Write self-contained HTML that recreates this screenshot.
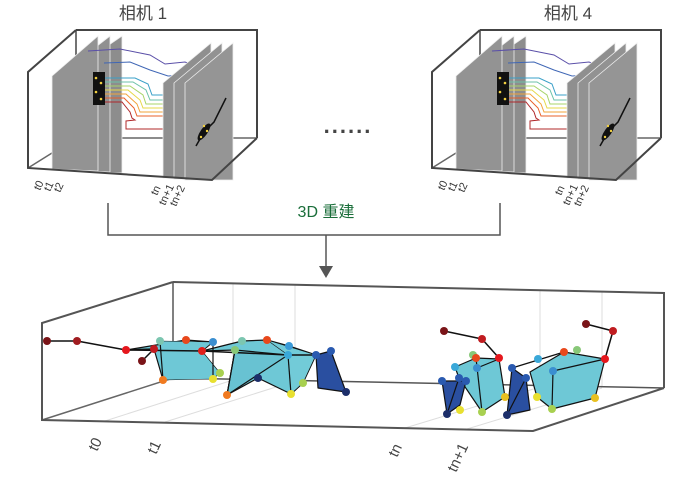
<!DOCTYPE html>
<html><head><meta charset="utf-8"><style>
html,body{margin:0;padding:0;background:#fff;}
svg{display:block;}
text{font-family:"Liberation Sans","Noto Sans CJK SC",sans-serif;}
</style></head><body>
<svg width="690" height="483" viewBox="0 0 690 483" xmlns="http://www.w3.org/2000/svg">
<defs>
<g id="cam">
  <polyline points="76,30 257,30 257,138" fill="none" stroke="#444" stroke-width="2"/>
  <line x1="76" y1="30" x2="76" y2="138" stroke="#444" stroke-width="1.5"/>
  <line x1="76" y1="138" x2="257" y2="138" stroke="#666" stroke-width="1.5"/>
  <line x1="28" y1="168" x2="76" y2="138" stroke="#666" stroke-width="1.5"/>
  <polygon points="72,70 122,36 122,173 72,171" fill="#8d8d8d" stroke="#eee" stroke-width="0.8"/>
  <polygon points="62,73 110,36 110,172 62,170" fill="#909090" stroke="#eee" stroke-width="0.8"/>
  <polygon points="52,76 98,36 98,171 52,169" fill="#939393" stroke="#eee" stroke-width="0.8"/>
  <g fill="none" stroke-width="1">
    <path d="M88,51 L120,49 L150,55 L165,64 L185,62 L198,67" stroke="#5a4fa8"/>
    <path d="M104,63 L130,62 L150,70 L168,76 L188,75" stroke="#3f66b5"/>
    <path d="M100,78 L135,78 L148,84 L152,95 L163,95" stroke="#3aa0c8"/>
    <path d="M100,82 L133,82 L146,90 L150,100 L163,100" stroke="#6cc2a8"/>
    <path d="M98,86 L130,86 L143,95 L146,104 L163,104" stroke="#a8d46a"/>
    <path d="M98,90 L128,90 L140,100 L143,108 L163,108" stroke="#e6d84a"/>
    <path d="M97,94 L126,94 L137,104 L140,112 L163,112" stroke="#f2a33a"/>
    <path d="M97,98 L124,98 L134,108 L137,116 L163,116" stroke="#e8602a"/>
    <path d="M96,102 L122,102 L130,112 L132,118 L135,120 L126,121 L126,129 L163,129" stroke="#b0282a"/>
  </g>
  <rect x="93" y="72" width="12" height="33" fill="#111"/>
  <g fill="#f2d040"><circle cx="96" cy="78" r="1.3"/><circle cx="101" cy="83" r="1.3"/><circle cx="96" cy="92" r="1.3"/><circle cx="101" cy="99" r="1.3"/></g>
  <polygon points="163,83 211,43 211,178 163,178" fill="#8f8f8f" stroke="#eee" stroke-width="0.8"/>
  <polygon points="174,83 222,43 222,179 174,179" fill="#929292" stroke="#eee" stroke-width="0.8"/>
  <polygon points="185,83 233,43 233,180 185,180" fill="#959595" stroke="#eee" stroke-width="0.8"/>
  <path d="M196,146 L204,132 L214,122 L226,98" stroke="#111" stroke-width="1.5" fill="none"/>
  <ellipse cx="204" cy="132" rx="3.5" ry="10" transform="rotate(35 204 132)" fill="#111"/>
  <g fill="#f2d040"><circle cx="204" cy="126" r="1.2"/><circle cx="207" cy="131" r="1.2"/><circle cx="201" cy="137" r="1.2"/></g>
  <polyline points="76,30 28,72 28,168 212,180 257,138" fill="none" stroke="#444" stroke-width="2"/>
  <g font-size="11" fill="#333">
    <text transform="translate(40,191) rotate(-65)">t0</text>
    <text transform="translate(50,192) rotate(-65)">t1</text>
    <text transform="translate(60,193) rotate(-65)">t2</text>
    <text transform="translate(157,196) rotate(-65)">tn</text>
    <text transform="translate(165,206) rotate(-65)">tn+1</text>
    <text transform="translate(176,207) rotate(-65)">tn+2</text>
  </g>
</g>
</defs>
<text x="143" y="19" font-size="17" fill="#444" text-anchor="middle">相机 1</text>
<text x="568" y="19" font-size="17" fill="#444" text-anchor="middle">相机 4</text>
<use href="#cam"/>
<use href="#cam" transform="translate(404,0)"/>
<text x="348" y="133" font-size="22" fill="#444" text-anchor="middle" font-weight="bold" letter-spacing="2">......</text>
<polyline points="108,203 108,235 500,235 500,203" fill="none" stroke="#555" stroke-width="1.5"/>
<line x1="326" y1="235" x2="326" y2="268" stroke="#555" stroke-width="1.5"/>
<polygon points="319,266 333,266 326,278" fill="#555"/>
<text x="326" y="217" font-size="16" fill="#1a6e3a" text-anchor="middle">3D 重建</text>
<g stroke="#ddd" stroke-width="1">
  <line x1="233" y1="283" x2="233" y2="379"/><line x1="295" y1="285" x2="295" y2="380"/>
  <line x1="540" y1="290" x2="540" y2="386"/><line x1="602" y1="291" x2="602" y2="387"/>
  <line x1="105" y1="421" x2="233" y2="380"/><line x1="165" y1="422" x2="295" y2="381"/>
  <line x1="405" y1="428" x2="540" y2="387"/><line x1="467" y1="429" x2="602" y2="388"/>
</g>
<polyline points="173,282 664,293 664,388" fill="none" stroke="#555" stroke-width="2"/>
<line x1="173" y1="282" x2="173" y2="378" stroke="#555" stroke-width="1.5"/>
<line x1="173" y1="378" x2="664" y2="388" stroke="#555" stroke-width="1.5"/>
<line x1="42" y1="420" x2="173" y2="378" stroke="#666" stroke-width="1.5"/>
<g stroke="#111" stroke-width="1.2" stroke-linejoin="round">
  <polygon points="126,350 186,340 213,342 202,351 163,380 154,349" fill="#6ec8d6"/>
  <polygon points="160,341 213,342 202,351 220,373 213,379 163,380" fill="#6ec8d6" stroke-width="0.6"/>
  <polygon points="202,351 242,341 267,340 289,346 316,355 303,383 291,394 258,378 227,395 235,350" fill="#6ec8d6"/>
  <polygon points="235,350 288,355 227,395" fill="#68c2d2"/>
  <polygon points="267,340 316,355 303,383 291,394 288,355" fill="#72cbd8" stroke-width="0.6"/>
  <polygon points="316,355 331,351 346,392 318,388" fill="#2a4fa0"/>
  <polyline points="47,341 77,341 126,350 154,349 142,361" fill="none" stroke-width="1.5"/>
  <polyline points="126,350 202,351 288,355 316,355" fill="none" stroke-width="1.5"/>
  <line x1="160" y1="341" x2="163" y2="380"/><line x1="213" y1="342" x2="213" y2="379"/>
  <line x1="235" y1="350" x2="227" y2="395"/><line x1="288" y1="355" x2="291" y2="394"/>
</g>
<g stroke="none">
  <circle cx="47" cy="341" r="4" fill="#7a1418"/><circle cx="77" cy="341" r="4" fill="#a01c20"/>
  <circle cx="126" cy="350" r="4" fill="#e5171d"/><circle cx="160" cy="341" r="4" fill="#7cc6b0"/>
  <circle cx="186" cy="340" r="4" fill="#e8481c"/><circle cx="213" cy="342" r="4" fill="#3a8ed0"/>
  <circle cx="202" cy="351" r="4" fill="#e0201c"/><circle cx="154" cy="349" r="4" fill="#c01c20"/>
  <circle cx="142" cy="361" r="4" fill="#7a1418"/><circle cx="163" cy="380" r="4" fill="#f07a20"/>
  <circle cx="213" cy="379" r="4" fill="#e8e030"/><circle cx="220" cy="373" r="4" fill="#a8d050"/>
  <circle cx="242" cy="341" r="4" fill="#7cc6b0"/><circle cx="267" cy="340" r="4" fill="#e8481c"/>
  <circle cx="235" cy="350" r="4" fill="#88c878"/><circle cx="289" cy="346" r="4" fill="#3a9ad8"/>
  <circle cx="288" cy="355" r="4" fill="#3aa8d8"/><circle cx="227" cy="395" r="4" fill="#f07a20"/>
  <circle cx="291" cy="394" r="4" fill="#e8e030"/><circle cx="303" cy="383" r="4" fill="#a8d050"/>
  <circle cx="258" cy="378" r="4" fill="#1c2e6a"/><circle cx="316" cy="355" r="4" fill="#2a5ab0"/>
  <circle cx="331" cy="351" r="4" fill="#2a5ab0"/><circle cx="346" cy="392" r="4" fill="#1c2e6a"/>
</g>
<g stroke="#111" stroke-width="1.2" stroke-linejoin="round">
  <polygon points="455,367 476,358 499,359 505,397 482,412 459,378" fill="#6ec8d6"/>
  <polygon points="442,381 466,381 460,405 447,414" fill="#2a4fa0"/>
  <polyline points="444,331 482,339 499,358" fill="none" stroke-width="1.5"/>
  <line x1="476" y1="358" x2="482" y2="412"/><line x1="477" y1="368" x2="499" y2="359"/>
  <line x1="459" y1="378" x2="447" y2="414"/>
  <polygon points="530,372 564,352 605,359 595,398 552,409 537,397" fill="#6ec8d6"/>
  <polygon points="512,368 526,378 530,410 507,415" fill="#2a4fa0"/>
  <polyline points="586,324 613,331 605,359" fill="none" stroke-width="1.5"/>
  <line x1="553" y1="371" x2="552" y2="409"/><line x1="553" y1="371" x2="605" y2="359"/>
  <line x1="512" y1="368" x2="564" y2="352"/><line x1="526" y1="378" x2="507" y2="415"/>
</g>
<g stroke="none">
  <circle cx="444" cy="331" r="4" fill="#7a1418"/><circle cx="482" cy="339" r="4" fill="#c01c20"/>
  <circle cx="499" cy="358" r="4" fill="#e5171d"/><circle cx="473" cy="355" r="4" fill="#88c878"/>
  <circle cx="476" cy="358" r="4" fill="#e8481c"/><circle cx="455" cy="367" r="4" fill="#3aa8d8"/>
  <circle cx="477" cy="368" r="4" fill="#3a8ed0"/><circle cx="442" cy="381" r="4" fill="#2a5ab0"/>
  <circle cx="459" cy="378" r="4" fill="#2a5ab0"/><circle cx="466" cy="381" r="4" fill="#2a5ab0"/>
  <circle cx="447" cy="414" r="4" fill="#1c2e6a"/><circle cx="460" cy="410" r="4" fill="#e8e030"/>
  <circle cx="482" cy="412" r="4" fill="#a8d050"/><circle cx="505" cy="397" r="4" fill="#e8c020"/>
  <circle cx="586" cy="324" r="4" fill="#7a1418"/><circle cx="613" cy="331" r="4" fill="#c01c20"/>
  <circle cx="605" cy="359" r="4" fill="#e5171d"/><circle cx="564" cy="352" r="4" fill="#e8481c"/>
  <circle cx="577" cy="350" r="4" fill="#88c878"/><circle cx="538" cy="359" r="4" fill="#3aa8d8"/>
  <circle cx="553" cy="371" r="4" fill="#3a8ed0"/><circle cx="512" cy="368" r="4" fill="#2a5ab0"/>
  <circle cx="526" cy="378" r="4" fill="#2a5ab0"/><circle cx="507" cy="415" r="4" fill="#1c2e6a"/>
  <circle cx="537" cy="397" r="4" fill="#e8e030"/><circle cx="552" cy="409" r="4" fill="#a8d050"/>
  <circle cx="595" cy="398" r="4" fill="#e8c020"/>
</g>
<polyline points="173,282 42,323 42,420 533,431 664,388" fill="none" stroke="#555" stroke-width="2"/>
<g font-size="15" fill="#444">
  <text transform="translate(97,452) rotate(-65)">t0</text>
  <text transform="translate(156,455) rotate(-65)">t1</text>
  <text transform="translate(397,458) rotate(-65)">tn</text>
  <text transform="translate(456,473) rotate(-65)">tn+1</text>
</g>
</svg>
</body></html>
